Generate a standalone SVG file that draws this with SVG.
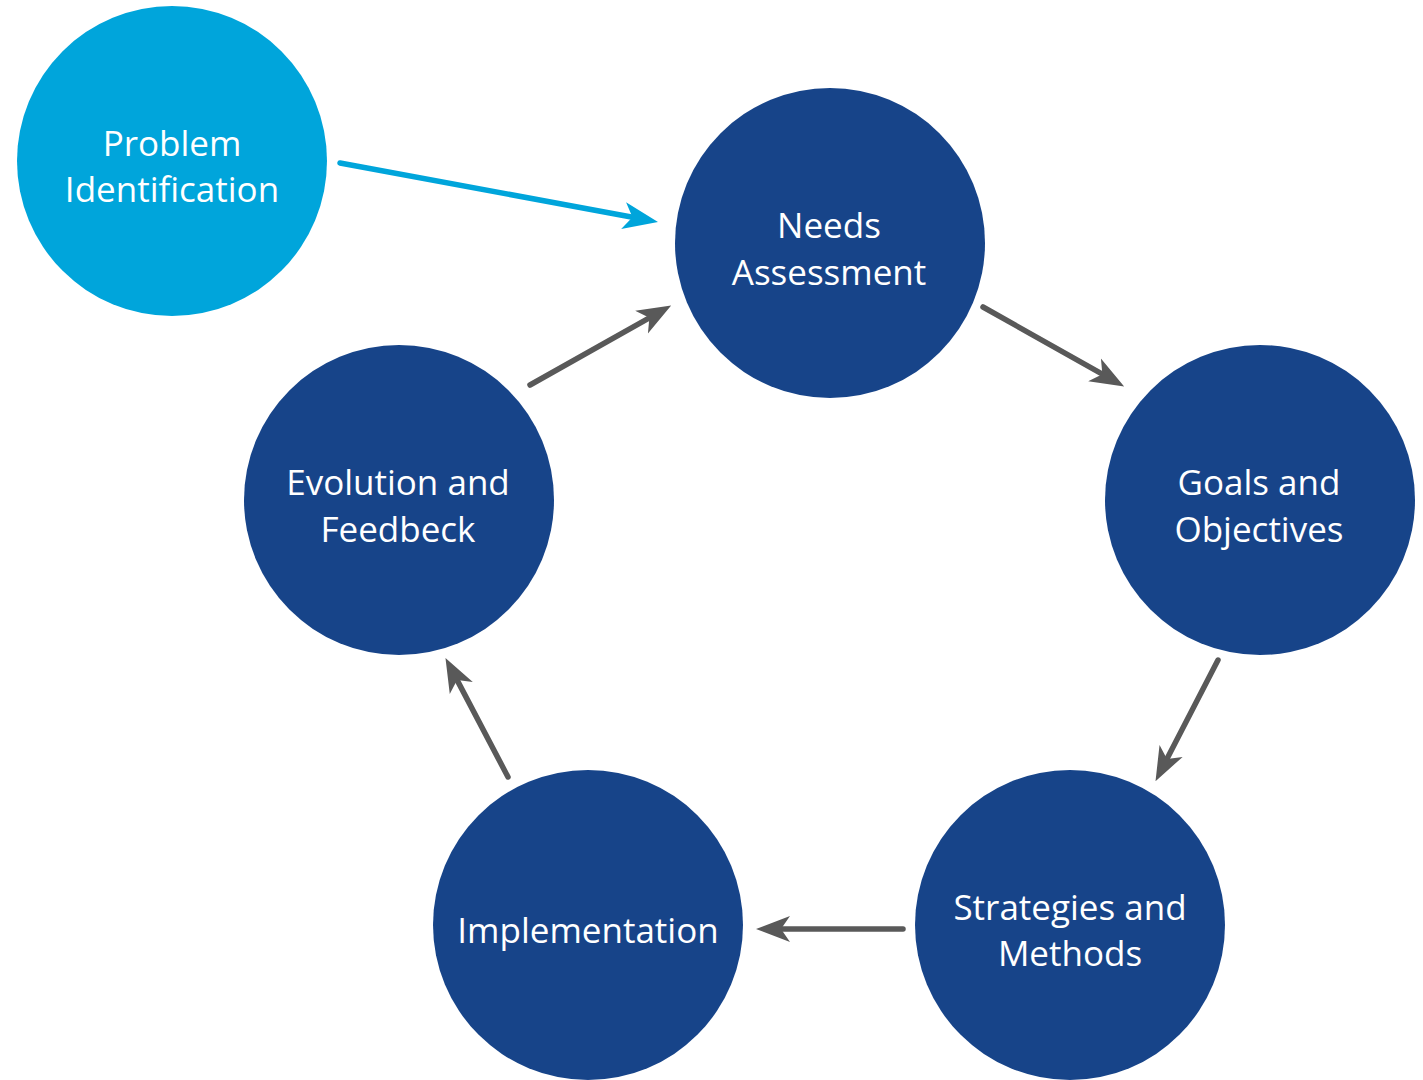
<svg xmlns="http://www.w3.org/2000/svg" width="1423" height="1080" viewBox="0 0 1423 1080">
<style>
.node{fill:#174489}
.node-light{fill:#00A5DB}
.lbl{font-family:"Open Sans","Noto Sans","Liberation Sans",sans-serif;font-size:35px;font-weight:500;fill:#ffffff;text-anchor:middle}
.con{stroke:#595959;stroke-width:5.5;stroke-linecap:round;fill:none;marker-end:url(#ah-gray)}
.con-blue{stroke:#00A5DB;stroke-width:5.5;stroke-linecap:round;fill:none;marker-end:url(#ah-blue)}
</style>
<defs>
<marker id="ah-gray" markerUnits="userSpaceOnUse" viewBox="0 -15 36 30" markerWidth="36" markerHeight="30" refX="12" refY="0" orient="auto">
<path d="M0,-13 L34,0 L0,13 L9,0 Z" fill="#595959"/>
</marker>
<marker id="ah-blue" markerUnits="userSpaceOnUse" viewBox="0 -15 36 30" markerWidth="36" markerHeight="30" refX="12" refY="0" orient="auto">
<path d="M0,-13.5 L35,0 L0,13.5 L9,0 Z" fill="#00A5DB"/>
</marker>
</defs>
<rect width="1423" height="1080" fill="#ffffff"/>
<g id="connectors">
<line class="con-blue" x1="340" y1="163" x2="635.4" y2="217.8"/>
<line class="con" x1="983" y1="307" x2="1105" y2="375.7"/>
<line class="con" x1="1218" y1="660" x2="1165.6" y2="761.6"/>
<line class="con" x1="903" y1="929" x2="778" y2="929"/>
<line class="con" x1="508" y1="777" x2="455.7" y2="677.4"/>
<line class="con" x1="530" y1="385" x2="652" y2="316.3"/>
</g>
<g id="problem-identification">
<circle class="node-light" cx="172" cy="161" r="155"/>
<text class="lbl" x="172" y="156">Problem</text>
<text class="lbl" x="172" y="202">Identification</text>
</g>
<g id="needs-assessment">
<circle class="node" cx="830" cy="243" r="155"/>
<text class="lbl" x="829" y="238">Needs</text>
<text class="lbl" x="829" y="285">Assessment</text>
</g>
<g id="goals-objectives">
<circle class="node" cx="1260" cy="500" r="155"/>
<text class="lbl" x="1259" y="495">Goals and</text>
<text class="lbl" x="1259" y="542">Objectives</text>
</g>
<g id="strategies-methods">
<circle class="node" cx="1070" cy="925" r="155"/>
<text class="lbl" x="1070" y="920">Strategies and</text>
<text class="lbl" x="1070" y="966">Methods</text>
</g>
<g id="implementation">
<circle class="node" cx="588" cy="925" r="155"/>
<text class="lbl" x="588" y="943">Implementation</text>
</g>
<g id="evolution-feedback">
<circle class="node" cx="399" cy="500" r="155"/>
<text class="lbl" x="398" y="495">Evolution and</text>
<text class="lbl" x="398" y="542">Feedbeck</text>
</g>
</svg>
